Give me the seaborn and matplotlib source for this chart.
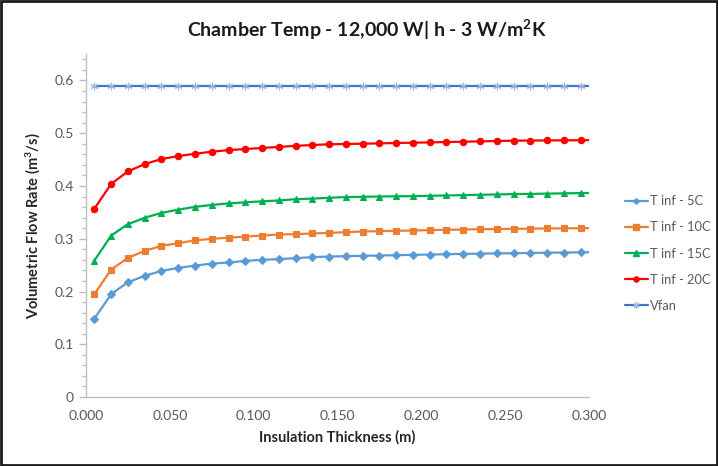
import matplotlib
matplotlib.use("Agg")
import matplotlib.pyplot as plt
from matplotlib.ticker import MultipleLocator, FuncFormatter
from matplotlib.patches import Rectangle
from matplotlib.lines import Line2D
import pandas as pd
import seaborn as sns

# Insulation thickness samples (m); the last sample closes the curve at 0.300
thickness = [0.005, 0.015, 0.025, 0.035, 0.045, 0.055, 0.065, 0.075, 0.085, 0.095,
             0.105, 0.115, 0.125, 0.135, 0.145, 0.155, 0.165, 0.175, 0.185, 0.195,
             0.205, 0.215, 0.225, 0.235, 0.245, 0.255, 0.265, 0.275, 0.285, 0.295,
             0.300]

t_inf_5 = [0.1486, 0.1950, 0.2176, 0.2296, 0.2390, 0.2448, 0.2490, 0.2530, 0.2550, 0.2580,
           0.2600, 0.2613, 0.2632, 0.2651, 0.2663, 0.2670, 0.2676, 0.2682, 0.2689, 0.2695,
           0.2700, 0.2707, 0.2713, 0.2718, 0.2722, 0.2726, 0.2731, 0.2735, 0.2739, 0.2742,
           0.2744]
t_inf_10 = [0.1950, 0.2416, 0.2638, 0.2770, 0.2865, 0.2916, 0.2970, 0.2998, 0.3020, 0.3040,
            0.3060, 0.3080, 0.3087, 0.3100, 0.3110, 0.3125, 0.3137, 0.3144, 0.3150, 0.3156,
            0.3163, 0.3169, 0.3175, 0.3180, 0.3184, 0.3188, 0.3191, 0.3194, 0.3197, 0.3200,
            0.3202]
t_inf_15 = [0.2587, 0.3060, 0.3277, 0.3397, 0.3490, 0.3550, 0.3605, 0.3640, 0.3670, 0.3690,
            0.3710, 0.3725, 0.3750, 0.3760, 0.3776, 0.3790, 0.3795, 0.3800, 0.3804, 0.3808,
            0.3814, 0.3820, 0.3827, 0.3833, 0.3839, 0.3846, 0.3850, 0.3855, 0.3860, 0.3865,
            0.3867]
t_inf_20 = [0.3570, 0.4040, 0.4276, 0.4415, 0.4510, 0.4567, 0.4610, 0.4650, 0.4680, 0.4700,
            0.4720, 0.4740, 0.4760, 0.4776, 0.4790, 0.4795, 0.4801, 0.4807, 0.4814, 0.4820,
            0.4826, 0.4833, 0.4839, 0.4845, 0.4852, 0.4858, 0.4861, 0.4863, 0.4865, 0.4867,
            0.4868]
v_fan = [0.59] * 31

series_names = ["T inf - 5C", "T inf - 10C", "T inf - 15C", "T inf - 20C", "Vfan"]
series_values = [t_inf_5, t_inf_10, t_inf_15, t_inf_20, v_fan]

x_ticks = [0.000, 0.050, 0.100, 0.150, 0.200, 0.250, 0.300]
y_ticks = [0.0, 0.1, 0.2, 0.3, 0.4, 0.5, 0.6]

title = "Chamber Temp - 12,000 W| h - 3 W/m$^{\\mathregular{2}}$K"
x_label = "Insulation Thickness (m)"
y_label = "Volumetric Flow Rate (m$^{\\mathregular{3}}$/s)"

sns.set_theme(style="white")
plt.rcParams["font.family"] = ["Lato", "DejaVu Sans"]
plt.rcParams["mathtext.default"] = "regular"

styles = {
    "T inf - 5C":  dict(color="#5B9BD5", marker="D", ms=3.6, mfc="#5B9BD5", mec="#5B9BD5"),
    "T inf - 10C": dict(color="#ED7D31", marker="s", ms=4.6, mfc="#ED7D31", mec="#ED7D31"),
    "T inf - 15C": dict(color="#00B050", marker="^", ms=4.6, mfc="#00B050", mec="#00B050"),
    "T inf - 20C": dict(color="#FF0000", marker="o", ms=4.6, mfc="#FF0000", mec="#FF0000"),
    "Vfan":        dict(color="#4472C4", marker=(6, 2, 0), ms=5.5, mfc="#9DB5E2", mec="#9DB5E2"),
}

df = pd.DataFrame({"thickness": thickness})
for name, vals in zip(series_names, series_values):
    df[name] = vals

fig = plt.figure(figsize=(7.18, 4.66), dpi=100)
ax = fig.add_axes([0.1198, 0.148, 0.7005, 0.736])

n_marked = len(thickness) - 1
for name in series_names:
    st = styles[name]
    sns.lineplot(data=df, x="thickness", y=name, ax=ax, color=st["color"],
                 linewidth=1.6, marker=st["marker"], markersize=st["ms"],
                 markerfacecolor=st["mfc"], markeredgecolor=st["mec"],
                 markeredgewidth=0.8, markevery=list(range(n_marked)),
                 legend=False, sort=False, estimator=None)

ax.set_xlim(0, 0.3)
ax.set_ylim(0, 0.65)
ax.set_xticks(x_ticks)
ax.set_yticks(y_ticks)
ax.yaxis.set_minor_locator(MultipleLocator(0.02))
ax.xaxis.set_major_formatter(FuncFormatter(lambda v, p: f"{v:.3f}"))
ax.yaxis.set_major_formatter(FuncFormatter(lambda v, p: "0" if abs(v) < 1e-9 else f"{v:.1f}"))

for side in ("top", "right"):
    ax.spines[side].set_visible(False)
for side in ("left", "bottom"):
    ax.spines[side].set_color("#BFBFBF")
    ax.spines[side].set_linewidth(1.0)

ax.tick_params(axis="y", which="major", direction="out", length=5, width=1,
               color="#BFBFBF", labelsize=10, labelcolor="#595959", pad=4, left=True)
ax.tick_params(axis="y", which="minor", direction="out", length=3, width=1,
               color="#BFBFBF", left=True)
ax.tick_params(axis="x", which="major", length=0, labelsize=10, labelcolor="#595959", pad=9)

ax.set_xlabel(x_label, fontsize=10.5, fontweight="bold", color="#262626", labelpad=6)
ax.set_ylabel(y_label, fontsize=10.5, fontweight="bold", color="#262626")
ax.yaxis.set_label_coords(-0.085, 0.5)
fig.text(0.511, 0.935, title, fontsize=14, fontweight="bold", color="#1a1a1a",
         ha="center", va="center")

handles = []
for name in series_names:
    st = styles[name]
    handles.append(Line2D([0], [0], color=st["color"], linewidth=1.6, marker=st["marker"],
                          markersize=st["ms"] * 0.8, markerfacecolor=st["mfc"],
                          markeredgecolor=st["mec"], label=name))
fig.legend(handles=handles, loc="center left", bbox_to_anchor=(0.8635, 0.456),
           frameon=False, fontsize=9.3, handlelength=1.75, handletextpad=0.15,
           labelspacing=1.1, labelcolor="#595959", borderaxespad=0)

# outer chart frame
fig.patches.append(Rectangle((0.002, 0.003), 0.996, 0.994, transform=fig.transFigure,
                             fill=False, edgecolor="#1a1a1a", linewidth=2.0))

fig.savefig("out.png", dpi=100)
